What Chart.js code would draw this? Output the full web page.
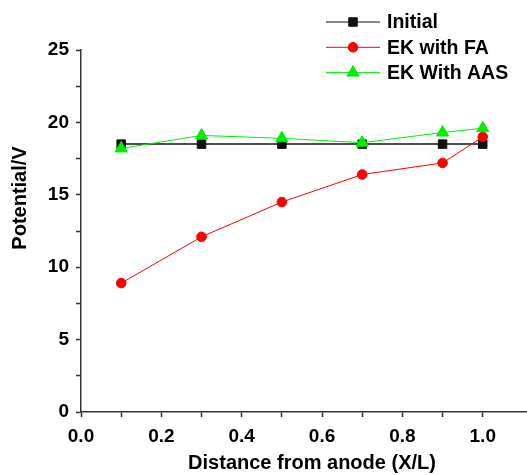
<!DOCTYPE html>
<html>
<head>
<meta charset="utf-8">
<script src="https://cdn.jsdelivr.net/npm/chart.js@4/dist/chart.umd.min.js"></script>
<style>
    html, body { margin: 0; padding: 0; overflow: hidden; background: #fff; }
    #wrap { width: 551px; height: 475px; }
</style>
</head>
<body>
<div id="wrap"><canvas id="chart"></canvas></div>
<script>
    const distance = [0.1, 0.3, 0.5, 0.7, 0.9, 1.0];
    const initial = [18.5, 18.5, 18.5, 18.5, 18.5, 18.5];
    const ekWithFa = [8.9, 12.1, 14.5, 16.4, 17.2, 19.0];
    const ekWithAas = [18.2, 19.1, 18.9, 18.6, 19.3, 19.6];
    const xTicks = [0.0, 0.2, 0.4, 0.6, 0.8, 1.0];
    const yTicks = [0, 5, 10, 15, 20, 25];

    const font = "'Liberation Sans', Arial, sans-serif";
    const toPoints = values => values.map((y, i) => ({ x: distance[i], y }));
    const isMajor = (value, list) => list.some(t => Math.abs(t - value) < 1e-6);

    const series = [
        { label: "Initial", data: initial, color: "#111", style: "rect", radius: 6, width: 1.5, order: 3 },
        { label: "EK with FA", data: ekWithFa, color: "#ff0000", style: "circle", radius: 4.8, width: 1, order: 2 },
        { label: "EK With AAS", data: ekWithAas, color: "#00ee00", style: "triangle", radius: 7, width: 1, order: 1 },
    ];

    // legend + y title drawn by hand, the original has both off-centre
    const extrasPlugin = {
        id: "extras",
        afterDraw(chart) {
            const ctx = chart.ctx;
            ctx.save();
            series.forEach((s, i) => {
                const y = 22 + i * 25.3;
                ctx.strokeStyle = s.color;
                ctx.lineWidth = 1;
                ctx.beginPath();
                ctx.moveTo(326, y);
                ctx.lineTo(380, y);
                ctx.stroke();
                ctx.fillStyle = s.color;
                ctx.strokeStyle = s.color;
                Chart.helpers.drawPoint(ctx, { pointStyle: s.style, radius: s.radius, rotation: 0, borderWidth: 1 }, 353, y);
                ctx.fillStyle = "#000";
                ctx.font = "bold 19.5px " + font;
                ctx.textBaseline = "middle";
                ctx.textAlign = "left";
                ctx.fillText(s.label, 387, y + 1);
            });

            ctx.translate(20, 198);
            ctx.rotate(-Math.PI / 2);
            ctx.fillStyle = "#000";
            ctx.font = "bold 20px " + font;
            ctx.textAlign = "center";
            ctx.textBaseline = "middle";
            ctx.fillText("Potential/V", 0, 0);
            ctx.restore();
        }
    };

    new Chart(document.getElementById("chart"), {
        type: "line",
        data: {
            datasets: series.map(s => ({
                label: s.label,
                data: toPoints(s.data),
                borderColor: s.color,
                backgroundColor: s.color,
                borderWidth: s.width,
                pointStyle: s.style,
                pointRadius: s.radius,
                pointBorderWidth: 1,
                pointBorderColor: s.color,
                pointBackgroundColor: s.color,
                order: s.order,
                tension: 0,
            }))
        },
        options: {
            animation: false,
            responsive: true,
            maintainAspectRatio: false,
            layout: { padding: { top: 50, right: 2, left: 0, bottom: 0 } },
            plugins: {
                legend: { display: false },
                tooltip: { enabled: false },
            },
            scales: {
                x: {
                    type: "linear",
                    min: 0,
                    max: 1.15,
                    border: { color: "#333", width: 1.5 },
                    grid: { drawOnChartArea: false, tickLength: 5, tickColor: "#333", tickWidth: 1.5 },
                    ticks: {
                        stepSize: 0.1,
                        autoSkip: false,
                        maxRotation: 0,
                        padding: 8,
                        color: "#000",
                        font: { family: font, size: 19, weight: "bold" },
                        callback: value => isMajor(value, xTicks) ? value.toFixed(1) : "",
                    },
                    title: {
                        display: true,
                        text: "Distance from anode (X/L)",
                        color: "#000",
                        font: { family: font, size: 20, weight: "bold" },
                        padding: { top: 0, bottom: 0 },
                    },
                    afterFit: scale => { scale.height = 63; },
                },
                y: {
                    min: 0,
                    max: 25,
                    border: { color: "#333", width: 1.5 },
                    grid: { drawOnChartArea: false, tickLength: 5, tickColor: "#333", tickWidth: 1.5 },
                    ticks: {
                        stepSize: 2.5,
                        autoSkip: false,
                        padding: 7,
                        color: "#000",
                        font: { family: font, size: 19, weight: "bold" },
                        callback: value => isMajor(value, yTicks) ? String(value) : "",
                    },
                    afterFit: scale => { scale.width = 81; },
                },
            },
        },
        plugins: [extrasPlugin],
    });
</script>
</body>
</html>
